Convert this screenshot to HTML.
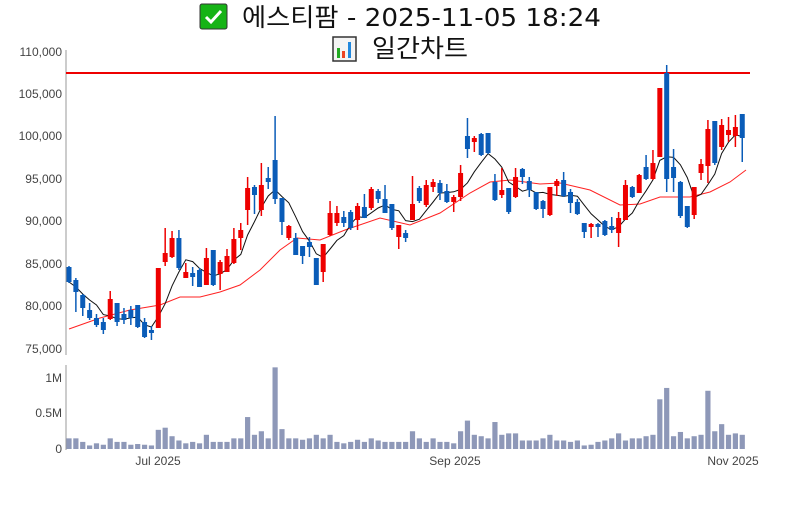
<!DOCTYPE html>
<html><head><meta charset="utf-8"><style>
body{margin:0;background:#fff;width:800px;height:500px;overflow:hidden;font-family:"Liberation Sans","Noto Sans CJK KR",sans-serif}
</style></head><body>
<svg id="s" width="800" height="500" xmlns="http://www.w3.org/2000/svg" font-family="Liberation Sans, Noto Sans CJK KR, sans-serif">
<rect width="800" height="500" fill="#fff"/>
<g>
<rect x="200" y="4" width="27" height="25" rx="2" fill="#16b316" stroke="#333" stroke-width="1"/>
<path d="M206 17 l5 5 l10 -11" stroke="#fff" stroke-width="3" fill="none"/>
<text x="242" y="26" font-size="25" fill="#111" font-family="DejaVu Sans, Noto Sans CJK KR, sans-serif" textLength="359" lengthAdjust="spacingAndGlyphs">에스티팜 - 2025-11-05 18:24</text>
<rect x="333" y="37" width="23" height="24" fill="#f4f4f4" stroke="#333" stroke-width="1.5"/>
<rect x="337" y="48" width="3" height="10" fill="#2a2"/><rect x="342" y="51" width="3" height="7" fill="#e42"/><rect x="348" y="42" width="3" height="16" fill="#28d"/>
<text x="372" y="57" font-size="25" fill="#111" font-family="DejaVu Sans, Noto Sans CJK KR, sans-serif" textLength="96" lengthAdjust="spacingAndGlyphs">일간차트</text>
</g>
<g font-size="12" fill="#444" text-anchor="end">
<text x="62" y="56">110,000</text><text x="62" y="98">105,000</text><text x="62" y="140">100,000</text>
<text x="62" y="183">95,000</text><text x="62" y="225">90,000</text><text x="62" y="268">85,000</text>
<text x="62" y="310">80,000</text><text x="62" y="353">75,000</text>
<text x="62" y="382">1M</text><text x="62" y="417">0.5M</text><text x="62" y="453">0</text>
</g>
<g font-size="12" fill="#444" text-anchor="middle">
<text x="158" y="465">Jul 2025</text><text x="455" y="465">Sep 2025</text><text x="733" y="465">Nov 2025</text>
</g>
<line x1="66" y1="50" x2="66" y2="355" stroke="#999" stroke-width="1"/>
<line x1="66" y1="365" x2="66" y2="450" stroke="#999" stroke-width="1"/>
<g id="c"></g>
</svg>
<script>
var d=[
[267,282,266,283,'B'],[280,292,278,312,'B'],[295,308,294,316,'B'],[310,318,303,320,'B'],[318,325,314,327,'B'],[322,330,318,334,'B'],[299,319,291,320,'R'],[303,322,303,326,'B'],[314,320,308,324,'B'],[310,318,306,325,'B'],
[305,327,305,328,'B'],[322,337,318,338,'B'],[330,333,326,340,'B'],[268,328,268,328,'R'],[253,262,228,266,'R'],[238,257,231,258,'R'],[238,268,230,270,'B'],[272,278,263,278,'R'],[273,277,267,286,'B'],[270,287,268,287,'B'],
[258,285,248,285,'R'],[250,285,250,286,'B'],[262,274,260,290,'R'],[256,272,249,272,'R'],[239,263,228,264,'R'],[230,238,223,250,'R'],[188,210,177,225,'R'],[187,195,185,214,'B'],[185,210,163,216,'R'],[178,182,167,189,'B'],
[160,199,116,204,'B'],[198,222,198,235,'B'],[226,238,225,240,'R'],[238,255,233,255,'B'],[246,256,246,264,'B'],[242,247,237,257,'B'],[258,285,258,285,'B'],[244,272,244,282,'R'],[213,235,201,236,'R'],[213,223,206,226,'R'],
[217,223,211,227,'B'],[212,228,210,230,'B'],[206,220,203,230,'R'],[207,218,194,218,'B'],[189,208,187,210,'R'],[191,199,189,203,'B'],[199,213,185,213,'B'],[204,228,204,230,'B'],[225,237,225,249,'R'],[233,238,230,242,'B'],
[204,220,176,220,'R'],[188,201,186,203,'B'],[185,205,180,207,'R'],[182,187,179,192,'R'],[183,193,180,200,'B'],[191,202,184,203,'B'],[197,202,195,212,'R'],[173,197,165,201,'R'],[136,149,118,158,'B'],[138,142,136,152,'R'],
[134,155,133,156,'B'],[133,153,133,154,'B'],[182,200,174,201,'B'],[190,195,168,198,'R'],[188,212,188,214,'B'],[177,197,168,198,'R'],[169,177,168,184,'B'],[181,190,177,197,'B'],[192,209,192,210,'B'],[201,209,200,218,'B'],
[187,215,187,216,'R'],[181,186,179,196,'R'],[180,196,172,197,'B'],[192,203,189,213,'B'],[202,214,199,215,'B'],[223,232,223,238,'B'],[224,227,223,238,'R'],[224,227,223,237,'B'],[221,235,220,236,'B'],[226,230,217,233,'B'],
[218,233,212,247,'R'],[185,220,180,220,'R'],[187,197,186,198,'B'],[175,193,174,193,'R'],[167,179,155,180,'B'],[163,179,150,180,'R'],[88,157,88,157,'R'],[73,179,65,192,'B'],[167,178,149,192,'B'],[182,216,181,218,'B'],
[206,227,206,228,'B'],[187,215,187,219,'R'],[164,173,159,180,'R'],[129,166,120,183,'R'],[121,163,121,165,'B'],[125,147,119,150,'R'],[130,135,117,142,'R'],[127,136,115,147,'R'],[114,138,114,162,'B']];
var v=[0.15,0.15,0.1,0.05,0.08,0.06,0.15,0.1,0.1,0.06,0.07,0.06,0.05,0.27,0.3,0.18,0.12,0.08,0.1,0.08,0.2,0.1,0.1,0.1,0.15,0.15,0.45,0.2,0.25,0.15,1.15,0.28,0.15,0.15,0.13,0.15,0.2,0.15,0.2,0.1,0.08,0.1,0.13,0.1,0.15,0.12,0.1,0.1,0.1,0.1,0.25,0.15,0.1,0.15,0.1,0.1,0.08,0.25,0.4,0.2,0.18,0.15,0.38,0.2,0.22,0.22,0.12,0.12,0.12,0.15,0.2,0.12,0.12,0.1,0.12,0.05,0.06,0.1,0.12,0.15,0.22,0.12,0.15,0.15,0.18,0.2,0.7,0.86,0.18,0.24,0.15,0.18,0.2,0.82,0.25,0.35,0.2,0.22,0.2];
var h='',X=function(i){return 69+i*6.87};
h+='<line x1="66" y1="73" x2="750" y2="73" stroke="#e00" stroke-width="2"/>';
var red=[[69,329],[100,318],[130,310],[160,305],[180,297],[200,297],[220,292],[240,285],[260,270],[280,250],[297,238],[320,240],[345,230],[380,218],[410,225],[440,213],[470,193],[490,182],[510,180],[540,184],[560,183],[590,190],[620,205],[640,204],[660,197],[690,197],[710,192],[730,182],[746,170]];
h+='<polyline fill="none" stroke="#f22" stroke-width="1" points="'+red.map(p=>p.join(',')).join(' ')+'"/>';
var cl=d.map(c=>c[4]=='R'?c[0]:c[1]),bk=[];
for(var i=0;i<d.length;i++){var s=0,n=0;for(var j=Math.max(0,i-4);j<=i;j++){s+=cl[j];n++}bk.push(X(i).toFixed(1)+','+(s/n).toFixed(1))}
h+='<polyline fill="none" stroke="#111" stroke-width="1" points="'+bk.join(' ')+'"/>';
d.forEach(function(c,i){var x=X(i),col=c[4]=='R'?'#e00':'#0a5cb8';
h+='<line x1="'+x+'" x2="'+x+'" y1="'+c[2]+'" y2="'+c[3]+'" stroke="'+col+'" stroke-width="1.5"/>';
h+='<rect x="'+(x-2.5)+'" y="'+c[0]+'" width="5" height="'+Math.max(2,c[1]-c[0])+'" fill="'+col+'"/>';});
v.forEach(function(a,i){var x=X(i),hh=a*71;h+='<rect x="'+(x-2.6)+'" y="'+(449-hh)+'" width="5.2" height="'+hh+'" fill="#8e98b8"/>';});
document.getElementById('c').innerHTML=h;
</script>
</body></html>
